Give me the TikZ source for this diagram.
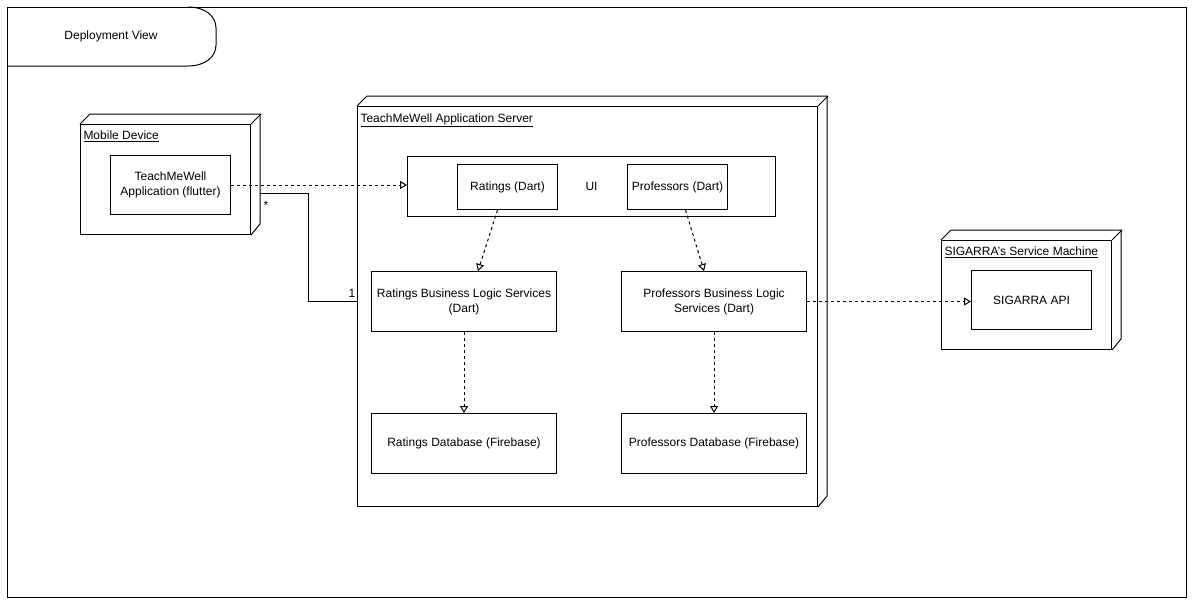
\documentclass[tikz,border=0pt]{standalone}
\usepackage{fontspec}
\setmainfont{Liberation Sans}
\usetikzlibrary{arrows.meta}

\tikzset{
  box/.style={draw, inner sep=0pt, anchor=north west, align=center, font=\fontsize{12}{15}\selectfont},
  nodelabel/.style={anchor=north west, inner sep=1pt, font=\fontsize{12}{15}\selectfont},
  dep/.style={dash pattern=on 3pt off 3pt, -{Triangle[open,length=7pt,width=8pt]}},
}

\begin{document}
\begin{tikzpicture}[x=1pt,y=-1pt,line width=1pt]
\useasboundingbox (0,0) rectangle (1193,600);
\draw (7,7) rectangle (1186,597);
% frame tab
\draw (7,66) -- (188,66) .. controls (205,66) and (216,57) .. (216,45) -- (216,28) .. controls (216,16) and (205,7) .. (188,7);
\node[font=\fontsize{12}{15}\selectfont] (title) at (111,36) {Deployment View};

% mobile device
\node[box, minimum width=170, minimum height=110] (mobile) at (80,124) {};
\draw (mobile.north west) -- ++(10,-10) -- ++(170,0) -- ++(0,110) -- (mobile.south east);
\draw (mobile.north east) -- ++(10,-10);
\node[nodelabel] (mobilelbl) at (82,129) {\underline{Mobile Device}};
\node[box, minimum width=120, minimum height=59] (app) at (110,155) {TeachMeWell\\Application (flutter)};

% application server
\node[box, minimum width=460, minimum height=400] (server) at (357,106) {};
\draw (server.north west) -- ++(10,-10) -- ++(460,0) -- ++(0,400) -- (server.south east);
\draw (server.north east) -- ++(10,-10);
\node[nodelabel] (serverlbl) at (359,112) {\underline{TeachMeWell Application Server}};
\node[box, minimum width=368, minimum height=60] (ui) at (407,156) {UI};
\node[box, minimum width=100, minimum height=45] (ratui) at (457,164) {Ratings (Dart)};
\node[box, minimum width=100, minimum height=45] (profui) at (627,164) {Professors (Dart)};
\node[box, minimum width=185, minimum height=60] (ratbl) at (371,271) {Ratings Business Logic Services\\(Dart)};
\node[box, minimum width=185, minimum height=60] (profbl) at (621,271) {Professors Business Logic\\Services (Dart)};
\node[box, minimum width=185, minimum height=60] (ratdb) at (371,413) {Ratings Database (Firebase)};
\node[box, minimum width=185, minimum height=60] (profdb) at (621,413) {Professors Database (Firebase)};

% sigarra
\node[box, minimum width=170, minimum height=109] (sigarra) at (941,240) {};
\draw (sigarra.north west) -- ++(10,-10) -- ++(170,0) -- ++(0,109) -- (sigarra.south east);
\draw (sigarra.north east) -- ++(10,-10);
\node[nodelabel] (sigarralbl) at (943,245) {\underline{SIGARRA's Service Machine}};
\node[box, minimum width=120, minimum height=59] (api) at (971,270) {SIGARRA API};

% connectors
\draw[dep] (app.east) -- (app.east -| ui.west);
\coordinate (assocA) at (260,193);
\coordinate (assocB) at (357,301);
\draw (assocA) -- ++(48,0) |- (assocB);
\node[font=\fontsize{12}{15}\selectfont] (many) at (266,205) {*};
\node[font=\fontsize{12}{15}\selectfont] (one) at (352,293) {1};
\draw[dep] ([xshift=-10]ratui.south) -- ([xshift=14]ratbl.north);
\draw[dep] ([xshift=8]profui.south) -- ([xshift=-10]profbl.north);
\draw[dep] (ratbl.south) -- (ratdb.north);
\draw[dep] (profbl.south) -- (profdb.north);
\draw[dep] (profbl.east) -- (profbl.east -| api.west);
\end{tikzpicture}
\end{document}
